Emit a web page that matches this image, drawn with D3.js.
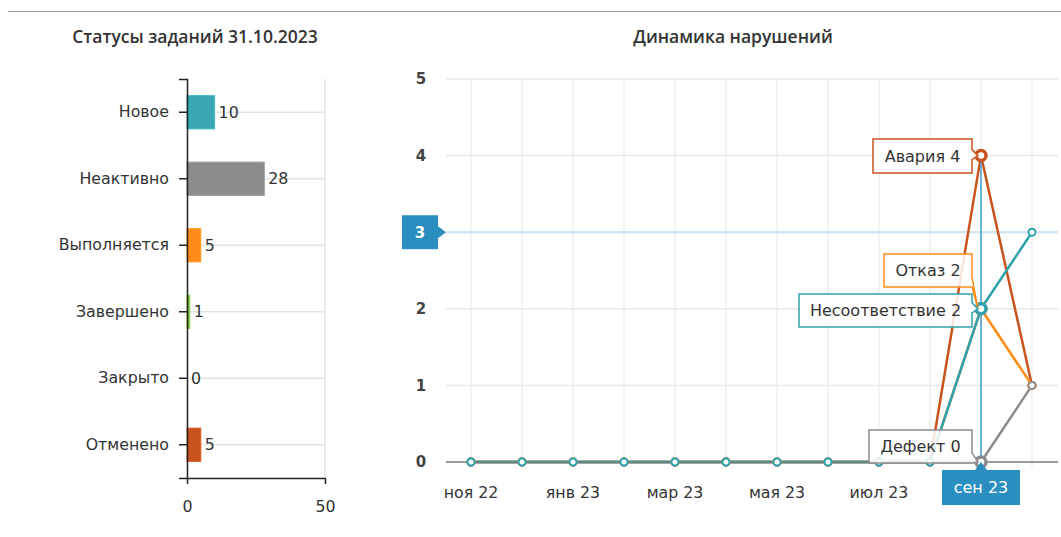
<!DOCTYPE html>
<html><head><meta charset="utf-8">
<script src="https://cdn.jsdelivr.net/npm/d3@7/dist/d3.min.js"></script>
<style>
body{margin:0;background:#fff;}
svg{display:block;font-family:"DejaVu Sans",sans-serif;}
</style></head><body>
<svg id="c" width="1061" height="537"></svg>
<script>
// ---- data ----
const statusCategories = ["Новое","Неактивно","Выполняется","Завершено","Закрыто","Отменено"];
const statusValues = [10,28,5,1,0,5];
const statusColors = ["#3aa7b5","#8c8c8c","#ff8c1a","#7abf3f","#999999","#c9531d"];
const statusTicks = [0,50];

const months = ["ноя 22","дек 22","янв 23","фев 23","мар 23","апр 23","мая 23","июн 23","июл 23","авг 23","сен 23","окт 23"];
const monthLabels = ["ноя 22","янв 23","мар 23","мая 23","июл 23"];
const seriesNames = ["Авария","Отказ","Дефект","Несоответствие"];
const seriesAvaria = [0,0,0,0,0,0,0,0,0,0,4,1];
const seriesOtkaz = [0,0,0,0,0,0,0,0,0,0,2,1];
const seriesDefekt = [0,0,0,0,0,0,0,0,0,0,0,1];
const seriesNesootv = [0,0,0,0,0,0,0,0,0,0,2,3];
const seriesColors = ["#c9531d","#ff8c1a","#8c8c8c","#2fa3ad"];
const yTicks = [0,1,2,3,4,5];
const hoverMonth = "сен 23";
const hoverValue = 3;

const svg = d3.select("#c");
const textCol = "#333";
const FS = 15.8;

// top rule
svg.append("line").attr("x1",8).attr("x2",1061).attr("y1",11.5).attr("y2",11.5).attr("stroke","#9a9a9a").attr("stroke-width",1.2);

// ---------- left chart ----------
const xL = d3.scaleLinear().domain([0,50]).range([187,325]);
const yL = d3.scaleBand().domain(statusCategories).range([79,478]).paddingInner(0.5).paddingOuter(0.25);

svg.append("text").attr("x",195).attr("y",43).attr("text-anchor","middle")
  .attr("font-size",17.5).attr("font-family","'Open Sans',sans-serif").attr("font-weight",600).attr("fill",textCol)
  .text("Статусы заданий 31.10.2023");

const gL = svg.append("g");
gL.selectAll(".hg").data(statusCategories).join("line")
  .attr("x1",xL(0)).attr("x2",xL(50)).attr("y1",d=>yL(d)+yL.bandwidth()/2).attr("y2",d=>yL(d)+yL.bandwidth()/2)
  .attr("stroke","#e4e4e4").attr("stroke-width",1.5);
gL.append("line").attr("x1",xL(50)).attr("x2",xL(50)).attr("y1",79).attr("y2",478).attr("stroke","#dcdcdc").attr("stroke-width",1.2);

gL.selectAll(".bar").data(statusCategories).join("rect")
  .attr("x",xL(0)).attr("y",d=>yL(d))
  .attr("width",(d,i)=>Math.max(0,xL(statusValues[i])-xL(0))).attr("height",yL.bandwidth())
  .attr("fill",(d,i)=>statusColors[i]).attr("stroke",(d,i)=>d3.color(statusColors[i]).brighter(0.3)).attr("stroke-width",1);
gL.selectAll(".val").data(statusCategories).join("text")
  .attr("x",(d,i)=>xL(statusValues[i])+4).attr("y",d=>yL(d)+yL.bandwidth()/2).attr("dy","0.36em")
  .attr("font-size",FS).attr("fill",textCol).text((d,i)=>statusValues[i]);

const axL = gL.append("g").attr("transform","translate(187,0)").call(d3.axisLeft(yL).tickSize(8).tickPadding(10));
axL.select(".domain").attr("stroke","#222").attr("stroke-width",1.5);
axL.selectAll(".tick line").attr("stroke","#222").attr("stroke-width",1.5);
axL.selectAll(".tick text").attr("font-size",FS).attr("fill",textCol).attr("font-family","'DejaVu Sans',sans-serif");
const axB = gL.append("g").attr("transform","translate(0,478)").call(d3.axisBottom(xL).tickValues(statusTicks).tickSize(6).tickSizeOuter(0).tickPadding(17));
axB.select(".domain").attr("stroke","#222").attr("stroke-width",1.5);
axB.selectAll(".tick line").attr("stroke","#222").attr("stroke-width",1.5);
axB.selectAll(".tick text").attr("font-size",FS).attr("fill",textCol).attr("font-family","'DejaVu Sans',sans-serif");

// ---------- right chart ----------
const x = d3.scalePoint().domain(months).range([471,1032]);
const y = d3.scaleLinear().domain([0,5]).range([462,79]);
const plotL = 446, plotR = 1058;

svg.append("text").attr("x",733).attr("y",43).attr("text-anchor","middle")
  .attr("font-size",17.5).attr("font-family","'Open Sans',sans-serif").attr("font-weight",600).attr("fill",textCol)
  .text("Динамика нарушений");

const gR = svg.append("g");
gR.selectAll(".vg").data(months).join("line")
  .attr("x1",d=>x(d)).attr("x2",d=>x(d)).attr("y1",79).attr("y2",468)
  .attr("stroke","#ebebeb").attr("stroke-width",1.2);
gR.selectAll(".hg").data(yTicks).join("line")
  .attr("x1",plotL).attr("x2",plotR).attr("y1",d=>y(d)).attr("y2",d=>y(d))
  .attr("stroke","#e8e8e8").attr("stroke-width",1.5);
gR.append("line").attr("x1",plotL).attr("x2",plotR).attr("y1",y(hoverValue)).attr("y2",y(hoverValue))
  .attr("stroke","#d3e6f2").attr("stroke-width",2.5);
gR.append("line").attr("x1",plotL).attr("x2",plotR).attr("y1",y(0)).attr("y2",y(0))
  .attr("stroke","#9a9a9a").attr("stroke-width",2);

gR.selectAll(".yl").data(yTicks).join("text")
  .attr("x",421).attr("y",d=>y(d)).attr("dy","0.36em").attr("text-anchor","middle")
  .attr("font-size",15).attr("font-weight","bold").attr("fill","#444").text(d=>d);
gR.selectAll(".xl").data(monthLabels).join("text")
  .attr("x",d=>x(d)).attr("y",498).attr("text-anchor","middle")
  .attr("font-size",FS).attr("fill",textCol).text(d=>d);

const allSeries = [seriesAvaria, seriesOtkaz, seriesDefekt, seriesNesootv];
const line = d3.line().x((d,i)=>x(months[i])).y(d=>y(d));
allSeries.forEach((s,k)=>{
  gR.append("path").datum(s).attr("d",line).attr("fill","none")
    .attr("stroke",seriesColors[k]).attr("stroke-width",2.5).attr("stroke-linejoin","round");
});
// zero-line overlay (series overlap on baseline)
gR.append("line").attr("x1",x(months[0])).attr("x2",x(hoverMonth)).attr("y1",y(0)).attr("y2",y(0))
  .attr("stroke","#7a7a7a").attr("stroke-opacity",0.55).attr("stroke-width",2.5);

const hx = x(hoverMonth);
gR.append("line").attr("x1",hx).attr("x2",hx).attr("y1",y(d3.max(allSeries,s=>s[months.indexOf(hoverMonth)]))).attr("y2",470)
  .attr("stroke","#3d9fd1").attr("stroke-width",1.5);
allSeries.forEach((s,k)=>{
  gR.selectAll(null).data(s).join("circle")
    .attr("cx",(d,i)=>x(months[i])).attr("cy",d=>y(d))
    .attr("r",(d,i)=>months[i]===hoverMonth?5:3.5)
    .attr("fill","#fff").attr("stroke",seriesColors[k])
    .attr("stroke-width",(d,i)=>months[i]===hoverMonth?3.5:2);
});

const hi = months.indexOf(hoverMonth);
const tips = [
  {k:0, x0:873, y0:139, y1:173},
  {k:1, x0:884, y0:254, y1:287},
  {k:3, x0:799, y0:294, y1:327},
  {k:2, x0:869, y0:430, y1:463}
];
tips.forEach(t=>{
  const v = allSeries[t.k][hi];
  const px = hx, py = y(v);
  const x1 = 972;
  const my = Math.min(Math.max(py, t.y0+8), t.y1-4);
  const path = `M${t.x0},${t.y0} H${x1} V${my-6} L${px-3},${py} L${x1},${my+4} V${t.y1} H${t.x0} Z`;
  gR.append("path").attr("d",path).attr("fill","rgba(255,255,255,0.85)")
    .attr("stroke",seriesColors[t.k]).attr("stroke-width",1.5);
  gR.append("text").attr("x",(t.x0+x1)/2).attr("y",(t.y0+t.y1)/2).attr("dy","0.36em")
    .attr("text-anchor","middle").attr("font-size",16).attr("fill",textCol)
    .text(seriesNames[t.k]+" "+v);
});

const cy3 = y(hoverValue);
gR.append("path").attr("d",`M402,${cy3-17} H438 V${cy3-6} L446,${cy3} L438,${cy3+6} V${cy3+17} H402 Z`).attr("fill","#2a8fc0");
gR.append("text").attr("x",420).attr("y",cy3).attr("dy","0.36em").attr("text-anchor","middle")
  .attr("font-size",15).attr("font-weight","bold").attr("fill","#fff").text(hoverValue);
gR.append("path").attr("d",`M942,470 H${hx-6} L${hx},462 L${hx+6},470 H1020 V505 H942 Z`).attr("fill","#2a8fc0");
gR.append("text").attr("x",981).attr("y",487.5).attr("dy","0.36em").attr("text-anchor","middle")
  .attr("font-size",16).attr("fill","#fff").text(hoverMonth);
</script></body></html>
